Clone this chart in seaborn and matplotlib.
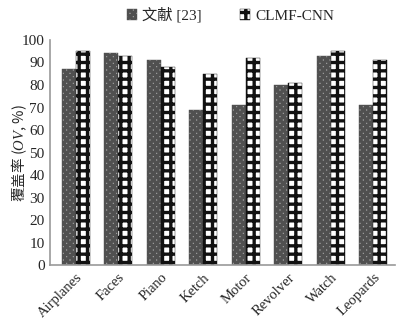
import matplotlib
matplotlib.use("Agg")
import matplotlib.pyplot as plt
import seaborn as sns
import pandas as pd

categories = ["Airplanes", "Faces", "Piano", "Ketch", "Motor", "Revolver", "Watch", "Leopards"]
ref23 = [87, 94, 91, 69, 71, 80, 93, 71]
clmf = [95, 93, 88, 85, 92, 81, 95, 91]
series_names = ["文献 [23]", "CLMF-CNN"]
yticks = [0, 10, 20, 30, 40, 50, 60, 70, 80, 90, 100]

sns.set_theme(style="white")
plt.rcParams['font.family'] = ['Liberation Serif', 'Noto Sans CJK SC']
plt.rcParams['mathtext.fontset'] = 'custom'
plt.rcParams['mathtext.it'] = 'Liberation Serif:italic'
plt.rcParams['mathtext.rm'] = 'Liberation Serif'
plt.rcParams['hatch.linewidth'] = 2.4

df = pd.DataFrame({
    "cat": categories * 2,
    "val": ref23 + clmf,
    "series": [series_names[0]] * len(categories) + [series_names[1]] * len(categories),
})

fig = plt.figure(figsize=(4.11, 3.19), dpi=100)
ax = fig.add_axes([0.122, 0.168, 0.838, 0.707])
sns.barplot(data=df, x="cat", y="val", hue="series", order=categories,
            hue_order=series_names, width=0.66, ax=ax,
            palette=["#8a8a8a", "#ffffff"], saturation=1, legend=True)

def style_a(p):
    p.set_facecolor("#a0a0a0"); p.set_hatch("xxxxx"); p.set_edgecolor("#505050"); p.set_linewidth(0.3)

def style_b(p):
    p.set_facecolor("#ffffff"); p.set_hatch("++"); p.set_edgecolor("#111111"); p.set_linewidth(0.3)

n = len(categories)
for i, p in enumerate(ax.patches[:2 * n]):
    (style_a if i < n else style_b)(p)

ax.set_ylim(0, 100)
ax.set_xlim(-0.6, 7.5)
ax.set_yticks(yticks)
ax.set_yticklabels([str(t) for t in yticks], fontsize=11)
ax.set_xticks(range(n))
ax.set_xticklabels(categories, rotation=45, ha="right", rotation_mode="anchor", fontsize=10.5)
ax.set_xlabel("")
ax.set_ylabel("覆盖率 ($OV$, %)", fontsize=10.5, family=['Noto Sans CJK SC', 'Liberation Serif'])
ax.yaxis.set_label_coords(-0.062, 0.5)
ax.tick_params(axis="both", length=0, pad=4)
for s in ["top", "right"]:
    ax.spines[s].set_visible(False)
for s in ["left", "bottom"]:
    ax.spines[s].set_color("#999999")
    ax.spines[s].set_linewidth(1.2)

handles, labels = ax.get_legend_handles_labels()
style_a(handles[0]); style_b(handles[1])
ax.get_legend().remove()
fig.legend(handles, labels, loc="upper center", bbox_to_anchor=(0.56, 1.02), ncol=2,
           frameon=False, handlelength=0.7, handleheight=0.7,
           columnspacing=2.5, handletextpad=0.3,
           prop={'family': ['Liberation Serif', 'Noto Sans CJK SC'], 'size': 11})

fig.savefig("out.png", dpi=100)
